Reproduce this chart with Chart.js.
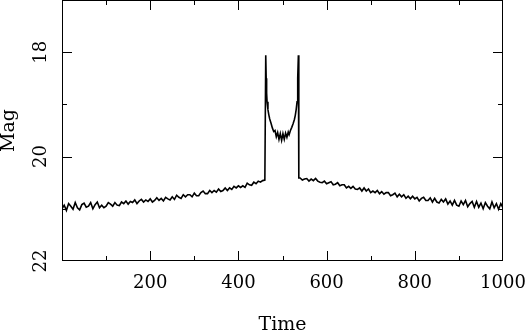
<!DOCTYPE html>
<html>
<head>
<meta charset="utf-8">
<script src="https://cdn.jsdelivr.net/npm/chart.js@4.4.0/dist/chart.umd.min.js"></script>
<style>
  body { margin: 0; background: #fff; }
  #lcChart { display: block; }
</style>
</head>
<body>
<canvas id="lcChart" width="529" height="332"></canvas>
<script>
// Light curve: baseline before the caustic crossing
const preTimes = [0,5,10,15,20,25,30,35,40,45, 50,55,60,65,70,75,80,85,90,95,
  100,105,110,115,120,125,130,135,140,145, 150,155,160,165,170,175,180,185,190,195,
  200,205,210,215,220,225,230,235,240,245, 250,255,260,265,270,275,280,285,290,295,
  300,305,310,315,320,325,330,335,340,345, 350,355,360,365,370,375,380,385,390,395,
  400,405,410,415,420,425,430,435,440,445, 450,455,460];
const preMags = [21.00,20.93,21.03,20.90,20.95,21.01,20.88,20.98,21.02,20.92,
  20.89,20.97,20.95,20.88,21.00,20.92,20.87,20.98,20.93,20.98,
  20.95,20.88,20.91,20.95,20.88,20.93,20.94,20.87,20.90,20.85,
  20.91,20.86,20.88,20.83,20.90,20.85,20.82,20.87,20.83,20.86,
  20.81,20.87,20.84,20.79,20.84,20.80,20.85,20.78,20.81,20.83,
  20.77,20.82,20.74,20.78,20.80,20.73,20.77,20.73,20.73,20.77,
  20.70,20.75,20.75,20.69,20.66,20.71,20.71,20.65,20.69,20.65,
  20.68,20.62,20.67,20.65,20.60,20.65,20.60,20.63,20.57,20.60,
  20.56,20.59,20.56,20.59,20.51,20.54,20.55,20.49,20.52,20.47,
  20.49,20.46,20.45];

// between the two caustic spikes
const causticTimes = [462,463,464,465,467,469,471,474,477,480,483,486,489,492,495,498,
  501,504,507,510,513,515,518,521,524,527,529,531,533,534,535,536,537];
const causticMags = [18.06,18.50,18.78,18.95,19.10,19.20,19.28,19.36,19.45,19.52,19.50,19.62,19.54,19.67,19.56,19.69,
  19.56,19.67,19.55,19.63,19.53,19.58,19.50,19.44,19.37,19.29,19.21,19.10,18.95,18.78,18.50,18.06,20.41];

// baseline after the crossing
const postTimes = [540,545,550,555,560,565,570,575,580,585, 590,595,600,605,610,615,620,625,630,635,
  640,645,650,655,660,665,670,675,680,685, 690,695,700,705,710,715,720,725,730,735,
  740,745,750,755,760,765,770,775,780,785, 790,795,800,805,810,815,820,825,830,835,
  840,845,850,855,860,865,870,875,880,885, 890,895,900,905,910,915,920,925,930,935,
  940,945,950,955,960,965,970,975,980,985, 990,995,1000];
const postMags = [20.41,20.45,20.43,20.42,20.47,20.43,20.46,20.42,20.47,20.49,
  20.50,20.47,20.52,20.50,20.48,20.54,20.53,20.50,20.56,20.54,
  20.54,20.60,20.57,20.61,20.57,20.62,20.63,20.60,20.66,20.60,
  20.66,20.62,20.69,20.66,20.69,20.65,20.71,20.67,20.72,20.69,
  20.69,20.75,20.73,20.70,20.77,20.72,20.77,20.73,20.80,20.76,
  20.81,20.76,20.81,20.78,20.85,20.80,20.78,20.84,20.84,20.79,
  20.87,20.80,20.87,20.89,20.82,20.87,20.81,20.91,20.85,20.93,
  20.84,20.93,20.95,20.85,20.92,20.84,20.96,20.90,20.86,20.97,
  20.86,20.97,20.89,21.00,20.88,20.95,21.00,20.87,20.98,20.90,
  21.01,20.90,20.98];

const xTickLabels = [200, 400, 600, 800, 1000];
const yTickLabels = [18, 20, 22];

const times = preTimes.concat(causticTimes, postTimes);
const mags = preMags.concat(causticMags, postMags);
const points = times.map((t, i) => ({ x: t, y: mags[i] }));

const serif = "'DejaVu Serif', 'Liberation Serif', serif";

// frame with inward tick marks on all four sides
const framePlugin = {
    id: 'frame',
    afterDraw(chart) {
        const { ctx, chartArea: a, scales } = chart;
        ctx.save();
        ctx.strokeStyle = '#000';
        ctx.lineWidth = 1;
        ctx.strokeRect(a.left + 0.5, a.top + 0.5, a.right - a.left - 1, a.bottom - a.top - 1);
        ctx.beginPath();
        for (let v = 100; v < 1000; v += 100) {
            const x = Math.round(scales.x.getPixelForValue(v)) + 0.5;
            const len = v % 200 === 0 ? 10 : 5;
            ctx.moveTo(x, a.bottom); ctx.lineTo(x, a.bottom - len);
            ctx.moveTo(x, a.top); ctx.lineTo(x, a.top + len);
        }
        for (let v = 18; v < 22; v += 1) {
            const y = Math.round(scales.y.getPixelForValue(v)) + 0.5;
            const len = v % 2 === 0 ? 10 : 5;
            ctx.moveTo(a.left, y); ctx.lineTo(a.left + len, y);
            ctx.moveTo(a.right, y); ctx.lineTo(a.right - len, y);
        }
        ctx.stroke();
        ctx.restore();
    }
};

const ctx = document.getElementById('lcChart').getContext('2d');
const lcChart = new Chart(ctx, {
    type: 'line',
    data: {
        datasets: [{
            data: points,
            borderColor: '#000',
            borderWidth: 1.6,
            pointRadius: 0,
            tension: 0,
            fill: false
        }]
    },
    options: {
        responsive: false,
        animation: false,
        devicePixelRatio: 1,
        layout: { padding: { top: 0, right: 26, left: 0, bottom: 0 } },
        plugins: { legend: { display: false }, tooltip: { enabled: false } },
        scales: {
            x: {
                type: 'linear',
                min: 0,
                max: 1000,
                grid: { display: false, drawTicks: false },
                border: { display: false },
                ticks: {
                    stepSize: 100,
                    padding: 12,
                    color: '#000',
                    font: { family: serif, size: 18 },
                    maxRotation: 0,
                    autoSkip: false,
                    callback: v => xTickLabels.includes(v) ? String(v) : ''
                },
                title: {
                    display: true,
                    text: 'Time',
                    color: '#000',
                    font: { family: serif, size: 19, lineHeight: 1 },
                    padding: { top: 0, bottom: -3 }
                },
                afterFit: s => { s.height = 71; s.paddingLeft = 0; s.paddingRight = 0; }
            },
            y: {
                type: 'linear',
                reverse: true,
                min: 17,
                max: 22,
                grid: { display: false, drawTicks: false },
                border: { display: false },
                ticks: {
                    stepSize: 1,
                    padding: 9,
                    color: '#000',
                    crossAlign: 'center',
                    minRotation: 90,
                    maxRotation: 90,
                    font: { family: serif, size: 18 },
                    autoSkip: false,
                    callback: v => yTickLabels.includes(v) ? String(v) : ''
                },
                title: {
                    display: true,
                    text: 'Mag',
                    color: '#000',
                    font: { family: serif, size: 19, lineHeight: 1 },
                    padding: 0
                },
                afterFit: s => { s.width = 62; s.paddingTop = 0; s.paddingBottom = 0; }
            }
        }
    },
    plugins: [framePlugin]
});
</script>
</body>
</html>
